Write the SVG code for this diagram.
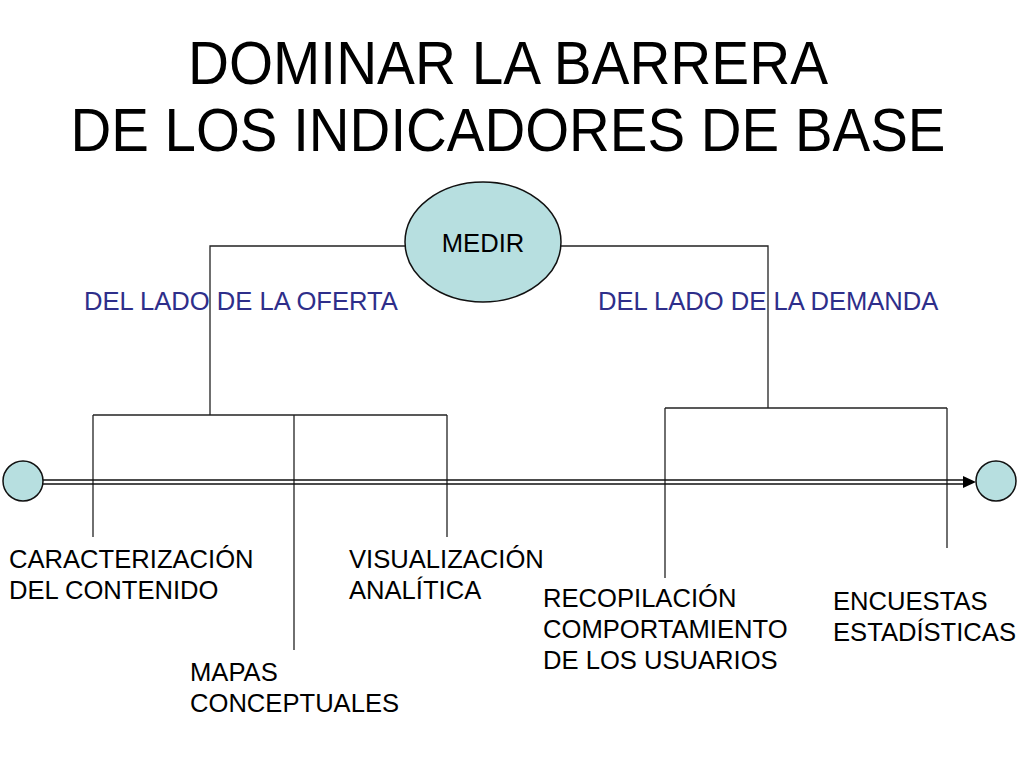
<svg xmlns="http://www.w3.org/2000/svg" width="1024" height="768" viewBox="0 0 1024 768">
<style>
.t{font-family:"Liberation Sans",Arial,sans-serif;font-size:25.6px;fill:#000}
.b{fill:#2e2e8a}
.ti{font-family:"Liberation Sans",Arial,sans-serif;font-size:61px;fill:#000;text-anchor:middle}
.ln{stroke:#222;stroke-width:1.3;fill:none}
.nd{fill:#b7dfe0;stroke:#111;stroke-width:1.5}
</style>
<rect width="1024" height="768" fill="#fff"/>
<g id="title">
<text class="ti" x="508" y="84" textLength="640" lengthAdjust="spacingAndGlyphs">DOMINAR LA BARRERA</text>
<text class="ti" x="508" y="151" textLength="875" lengthAdjust="spacingAndGlyphs">DE LOS INDICADORES DE BASE</text>
</g>
<g id="connectors">
<polyline class="ln" points="405,246 210,246 210,415"/>
<polyline class="ln" points="561,246 768,246 768,408"/>
<line class="ln" x1="93" y1="415" x2="447" y2="415"/>
<line class="ln" x1="93" y1="415" x2="93" y2="537"/>
<line class="ln" x1="294" y1="415" x2="294" y2="650"/>
<line class="ln" x1="447" y1="415" x2="447" y2="537"/>
<line class="ln" x1="665" y1="408" x2="947" y2="408"/>
<line class="ln" x1="665" y1="408" x2="665" y2="578"/>
<line class="ln" x1="947" y1="408" x2="947" y2="548"/>
<line stroke="#111" stroke-width="1.6" x1="43" y1="480" x2="966" y2="480"/>
<line stroke="#111" stroke-width="1.6" x1="43" y1="484" x2="966" y2="484"/>
<polygon points="963,476 976,482 963,488" fill="#000"/>
</g>
<g id="medir">
<ellipse class="nd" cx="483" cy="242" rx="78" ry="60"/>
<text class="t" x="483" y="252" text-anchor="middle">MEDIR</text>
</g>
<g id="start"><circle class="nd" cx="23" cy="481" r="20"/></g>
<g id="end"><circle class="nd" cx="996" cy="481" r="20"/></g>
<g id="oferta"><text class="t b" x="84" y="310">DEL LADO DE LA OFERTA</text></g>
<g id="demanda"><text class="t b" x="598" y="310">DEL LADO DE LA DEMANDA</text></g>
<g id="caracterizacion"><text class="t" x="9" y="568">CARACTERIZACIÓN</text><text class="t" x="9" y="599">DEL CONTENIDO</text></g>
<g id="visualizacion"><text class="t" x="349" y="568">VISUALIZACIÓN</text><text class="t" x="349" y="599">ANALÍTICA</text></g>
<g id="mapas"><text class="t" x="190" y="681">MAPAS</text><text class="t" x="190" y="712">CONCEPTUALES</text></g>
<g id="recopilacion"><text class="t" x="543" y="607">RECOPILACIÓN</text><text class="t" x="543" y="638">COMPORTAMIENTO</text><text class="t" x="543" y="669">DE LOS USUARIOS</text></g>
<g id="encuestas"><text class="t" x="833" y="610">ENCUESTAS</text><text class="t" x="833" y="641">ESTADÍSTICAS</text></g>
</svg>
